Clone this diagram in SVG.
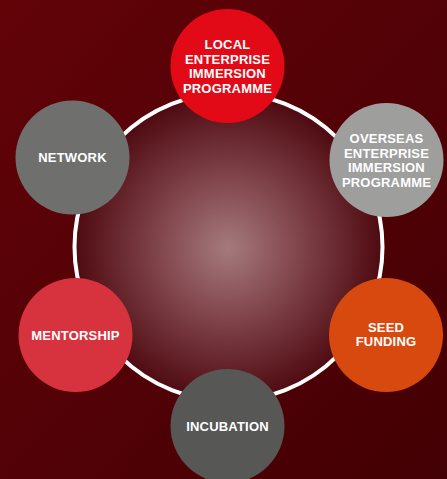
<svg xmlns="http://www.w3.org/2000/svg" width="447" height="479" viewBox="0 0 447 479">
<defs>
<linearGradient id="bg" x1="0" y1="0" x2="1" y2="1">
<stop offset="0" stop-color="#620308"/>
<stop offset="1" stop-color="#430004"/>
</linearGradient>
<radialGradient id="core" cx="228" cy="248" r="154" gradientUnits="userSpaceOnUse">
<stop offset="0" stop-color="#a57a7d"/>
<stop offset="0.5" stop-color="#7d4047"/>
<stop offset="1" stop-color="#4e0a10"/>
</radialGradient>
<style>
.lbl{font-family:"Liberation Sans",Arial,sans-serif;font-weight:bold;font-size:13px;fill:#ffffff;text-anchor:middle;letter-spacing:0.2px}
.ring{fill:url(#core);stroke:#ffffff;stroke-width:4}
</style>
</defs>
<rect width="447" height="479" fill="url(#bg)"/>
<g id="connectors">
<circle class="ring" cx="228.5" cy="247" r="154"/>
</g>
<g id="local">
<circle cx="227.5" cy="66" r="57" fill="#e20a17"/>
<text class="lbl" x="227.5" y="49">LOCAL</text>
<text class="lbl" x="227.5" y="63.5">ENTERPRISE</text>
<text class="lbl" x="227.5" y="78">IMMERSION</text>
<text class="lbl" x="227.5" y="92.5">PROGRAMME</text>
</g>
<g id="overseas">
<circle cx="386.5" cy="160" r="57" fill="#9e9e9d"/>
<text class="lbl" x="386.5" y="143">OVERSEAS</text>
<text class="lbl" x="386.5" y="157.5">ENTERPRISE</text>
<text class="lbl" x="386.5" y="172">IMMERSION</text>
<text class="lbl" x="386.5" y="186.5">PROGRAMME</text>
</g>
<g id="seed">
<circle cx="386" cy="335" r="57" fill="#d8490f"/>
<text class="lbl" x="386" y="332">SEED</text>
<text class="lbl" x="386" y="346">FUNDING</text>
</g>
<g id="incubation">
<circle cx="227.5" cy="426" r="57" fill="#575756"/>
<text class="lbl" x="227.5" y="431">INCUBATION</text>
</g>
<g id="mentorship">
<circle cx="75.5" cy="335" r="57" fill="#d6333f"/>
<text class="lbl" x="75.5" y="339.5">MENTORSHIP</text>
</g>
<g id="network">
<circle cx="72.5" cy="157.5" r="57" fill="#6f6f6e"/>
<text class="lbl" x="72.5" y="162">NETWORK</text>
</g>
</svg>
